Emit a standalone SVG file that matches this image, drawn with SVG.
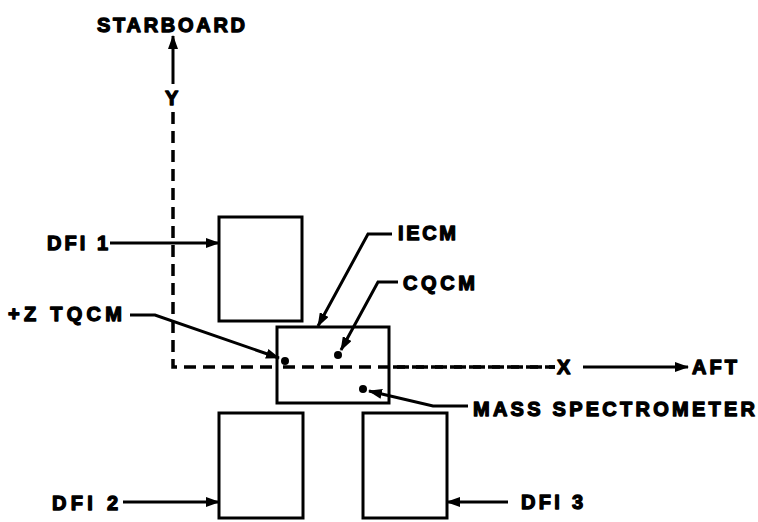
<svg xmlns="http://www.w3.org/2000/svg" width="758" height="522" viewBox="0 0 758 522">
<defs>
<style>
.lbl{font-family:"Liberation Sans",Arial,sans-serif;font-weight:bold;font-size:20px;fill:#000;stroke:#000;stroke-width:1.3;stroke-linejoin:round}
.box{fill:#fff;stroke:#000;stroke-width:3}
.ln{fill:none;stroke:#000;stroke-width:3}
.dash{fill:none;stroke:#000;stroke-width:3.5;stroke-dasharray:12 7}
</style>
<marker id="ah" viewBox="0 0 14 10" refX="13" refY="5" markerWidth="14" markerHeight="10" markerUnits="userSpaceOnUse" orient="auto">
<path d="M0,0 L14,5 L0,10 Z" fill="#000"/>
</marker>
</defs>
<rect width="758" height="522" fill="#fff"/>
<g id="axes">
<path class="dash" d="M173,112 L173,367 L555,367"/>
<line class="ln" x1="173" y1="84" x2="173" y2="36" marker-end="url(#ah)"/>
<line class="ln" x1="583" y1="367" x2="688" y2="367" marker-end="url(#ah)"/>
<text class="lbl" x="97" y="32" textLength="148" lengthAdjust="spacing">STARBOARD</text>
<text class="lbl" x="165" y="105" textLength="15">Y</text>
<text class="lbl" x="557" y="374" textLength="15">X</text>
<text class="lbl" x="692" y="374" textLength="45" lengthAdjust="spacing">AFT</text>
</g>
<g id="dfi1"><rect class="box" x="219" y="217" width="83" height="104"/></g>
<g id="dfi2"><rect class="box" x="219" y="413" width="84" height="105"/></g>
<g id="dfi3"><rect class="box" x="363" y="413" width="84" height="105"/></g>
<g id="iecm"><rect class="box" x="277" y="327" width="112" height="76"/></g>
<g id="axis-overlay"><path class="dash" d="M283,367 L555,367"/></g>
<g id="points">
<circle cx="285" cy="361" r="4" fill="#000"/>
<circle cx="338" cy="355" r="4" fill="#000"/>
<circle cx="363" cy="389" r="4" fill="#000"/>
</g>
<g id="connectors">
<line class="ln" x1="110" y1="243" x2="219" y2="243" marker-end="url(#ah)"/>
<line class="ln" x1="123" y1="502" x2="219" y2="502" marker-end="url(#ah)"/>
<line class="ln" x1="508" y1="502" x2="447" y2="502" marker-end="url(#ah)"/>
<polyline class="ln" points="130,315 155,315 279,358" marker-end="url(#ah)"/>
<polyline class="ln" points="392,234 368,234 318,326" marker-end="url(#ah)"/>
<polyline class="ln" points="398,282 378,282 341,350" marker-end="url(#ah)"/>
<polyline class="ln" points="468,406 433,406 369,391" marker-end="url(#ah)"/>
</g>
<g id="labels">
<text class="lbl" x="47" y="250" textLength="61" lengthAdjust="spacing">DFI 1</text>
<text class="lbl" x="52" y="510" textLength="66" lengthAdjust="spacing">DFI 2</text>
<text class="lbl" x="521" y="509" textLength="62" lengthAdjust="spacing">DFI 3</text>
<text class="lbl" x="8" y="321" textLength="114" lengthAdjust="spacing">+Z TQCM</text>
<text class="lbl" x="398" y="240" textLength="58" lengthAdjust="spacing">IECM</text>
<text class="lbl" x="403" y="290" textLength="72" lengthAdjust="spacing">CQCM</text>
<text class="lbl" x="473" y="416" textLength="282" lengthAdjust="spacing">MASS SPECTROMETER</text>
</g>
</svg>
